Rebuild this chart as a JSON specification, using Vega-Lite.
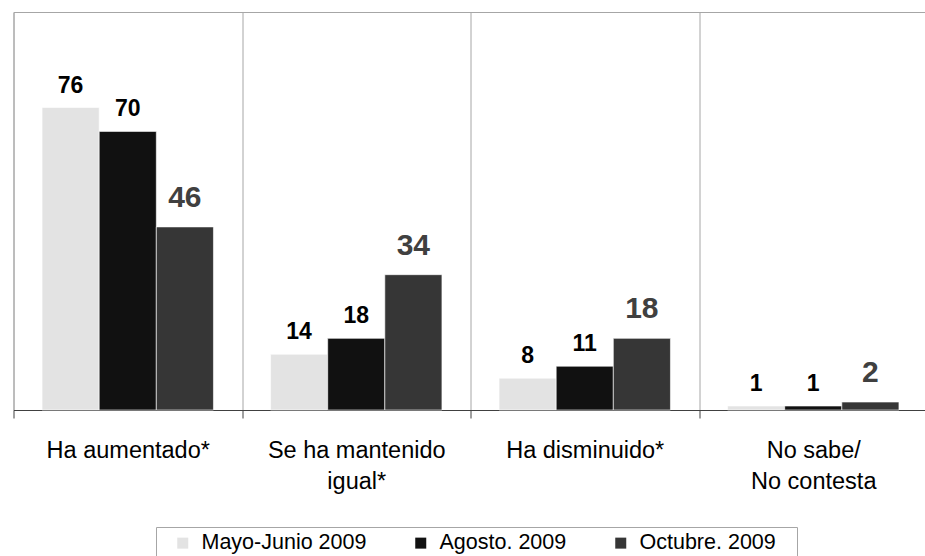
{
  "$schema": "https://vega.github.io/schema/vega-lite/v6.json",
  "width": 914,
  "height": 398,
  "autosize": {"type": "none"},
  "padding": {"left": 13.5, "top": 12, "right": 0, "bottom": 146},
  "background": "#ffffff",
  "config": {
    "font": "Liberation Sans",
    "view": {"stroke": "#a6a6a6", "strokeWidth": 1}
  },
  "data": {
    "values": [
      {"cat": "Ha aumentado*", "serie": "Mayo-Junio 2009", "v": 76},
      {"cat": "Ha aumentado*", "serie": "Agosto. 2009", "v": 70},
      {"cat": "Ha aumentado*", "serie": "Octubre. 2009", "v": 46},
      {"cat": "Se ha mantenido|igual*", "serie": "Mayo-Junio 2009", "v": 14},
      {"cat": "Se ha mantenido|igual*", "serie": "Agosto. 2009", "v": 18},
      {"cat": "Se ha mantenido|igual*", "serie": "Octubre. 2009", "v": 34},
      {"cat": "Ha disminuido*", "serie": "Mayo-Junio 2009", "v": 8},
      {"cat": "Ha disminuido*", "serie": "Agosto. 2009", "v": 11},
      {"cat": "Ha disminuido*", "serie": "Octubre. 2009", "v": 18},
      {"cat": "No sabe/|No contesta", "serie": "Mayo-Junio 2009", "v": 1},
      {"cat": "No sabe/|No contesta", "serie": "Agosto. 2009", "v": 1},
      {"cat": "No sabe/|No contesta", "serie": "Octubre. 2009", "v": 2}
    ]
  },
  "encoding": {
    "x": {
      "field": "cat", "type": "nominal", "sort": null, "title": null,
      "scale": {"paddingInner": 0, "paddingOuter": 0},
      "axis": {
        "tickBand": "extent", "labelAngle": 0, "grid": true,
        "gridColor": "#a6a6a6", "gridWidth": 1,
        "domainColor": "#404040", "tickColor": "#404040", "tickSize": 8,
        "labelFontSize": 23.5, "labelColor": "#000000", "labelPadding": 20,
        "labelLineHeight": 31, "labelFont": "Liberation Sans", "labelLimit": 300,
        "labelExpr": "split(datum.label, '|')"
      }
    },
    "xOffset": {
      "field": "serie", "type": "nominal",
      "sort": ["Mayo-Junio 2009", "Agosto. 2009", "Octubre. 2009"],
      "scale": {"paddingInner": 0, "paddingOuter": 0.5}
    },
    "y": {
      "field": "v", "type": "quantitative",
      "scale": {"domain": [0, 100]},
      "axis": null
    }
  },
  "layer": [
    {
      "mark": {"type": "bar", "stroke": "#ffffff", "strokeWidth": 0.6},
      "encoding": {
        "color": {
          "field": "serie", "type": "nominal",
          "sort": ["Mayo-Junio 2009", "Agosto. 2009", "Octubre. 2009"],
          "scale": {"domain": ["Mayo-Junio 2009", "Agosto. 2009", "Octubre. 2009"], "range": ["#e3e3e3", "#111111", "#363636"]},
          "legend": {
            "title": "\u00a0", "titleOrient": "left", "titlePadding": 11, "titleFontSize": 10,
            "orient": "none", "direction": "horizontal",
            "legendX": 142.5, "legendY": 515,
            "strokeColor": "#a6a6a6", "padding": 5, "fillColor": "#ffffff",
            "symbolType": "square", "symbolSize": 121, "symbolStrokeWidth": 0,
            "labelFontSize": 21.5, "labelFont": "Liberation Sans", "labelColor": "#000000",
            "labelOffset": 8, "columnPadding": 43, "labelLimit": 300,
            "labelExpr": "datum.label === 'Octubre. 2009' ? datum.label + '\u2800' : datum.label"
          }
        }
      }
    },
    {
      "transform": [{"filter": "datum.serie !== 'Octubre. 2009'"}],
      "mark": {"type": "text", "fontSize": 23, "fontWeight": "bold", "color": "#000000", "baseline": "alphabetic", "dy": -15},
      "encoding": {"text": {"field": "v", "type": "quantitative"}}
    },
    {
      "transform": [{"filter": "datum.serie === 'Octubre. 2009'"}],
      "mark": {"type": "text", "fontSize": 30, "fontWeight": "bold", "color": "#404040", "baseline": "alphabetic", "dy": -20},
      "encoding": {"text": {"field": "v", "type": "quantitative"}}
    }
  ]
}
